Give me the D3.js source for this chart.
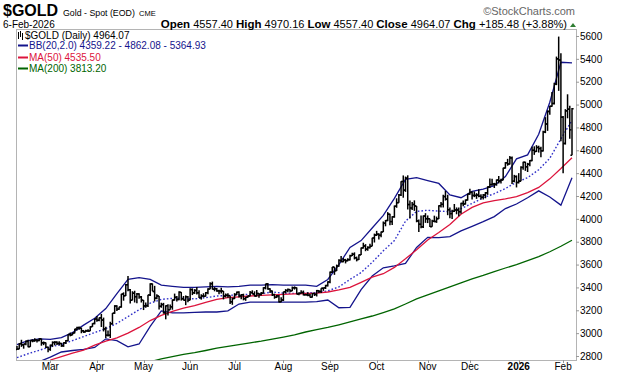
<!DOCTYPE html>
<html><head><meta charset="utf-8">
<script src="https://cdn.jsdelivr.net/npm/d3@7/dist/d3.min.js"></script>
<style>
html,body{margin:0;padding:0;background:#fff;}
svg{display:block;}
text{font-family:"Liberation Sans",Arial,sans-serif;}
</style></head>
<body>
<svg id="chart" width="620" height="376"></svg>
<script>
// ---- Data (trading-day index 0 = 7-Feb-2025 ... 250 = 6-Feb-2026) ----
const open = [2856,2861,2908,2898,2905,2928,2882,2935,2933,2939,2936,2951,2915,2916,2876,
2858,2893,2918,2920,2910,2910,2889,2916,2934,2988,2984,3001,3035,3048,3044,3022,3011,3020,3019,3057,3084,
3124,3113,3134,3114,3037,2982,2982,3083,3175,3237,3210,3229,3342,3327,3424,3380,3288,3349,3319,3343,3317,
3288,3239,3240,3334,3431,3365,3306,3325,3235,3250,3178,3240,3204,3230,3289,3314,3295,3357,3301,3288,3318,
3289,3381,3353,3374,3353,3311,3325,3322,3354,3386,3433,3385,3388,3370,3368,3368,3323,3332,3328,3274,
3303,3338,3357,3326,3336,3302,3313,3325,3355,3343,3325,3347,3338,3350,3397,3431,3387,3368,3337,3314,3326,3275,
3290,3363,3373,3381,3370,3397,3398,3342,3348,3356,3336,3336,3332,3315,3347,3339,3372,3365,3393,3397,3416,
3448,3533,3578,3546,3587,3636,3626,3641,3634,3643,3678,3690,3659,3644,3685,3746,3763,3735,3749,3760,3833,
3858,3866,3857,3886,3961,3985,4041,3976,4018,4110,4142,4209,4326,4251,4356,4125,4095,4126,4112,3982,3953,3930,4025,
4002,4001,3932,3980,3977,4001,4115,4127,4195,4172,4080,4046,4066,4078,4077,4063,4135,4130,4164,
4218,4232,4205,4205,4208,4198,4189,4208,4228,4280,4300,4305,4303,4339,4332,4340,4444,4490,4480,4533,4330,4370,
4318,4330,4450,4495,4455,4478,4510,4600,4590,4625,4615,4595,4760,4830,4940,4985,5010,5180,5400,5390,
4890,4660,4945,4960,4557];
const high = [2887,2911,2942,2907,2936,2942,2936,2947,2955,2946,2956,2952,2927,2918,2880,
2900,2928,2930,2930,2930,2915,2921,2940,2990,3005,3005,3038,3057,3058,3048,3028,3030,3033,3060,3087,3128,
3149,3137,3168,3136,3055,3024,3099,3176,3245,3245,3232,3344,3357,3430,3500,3386,3367,3371,3352,3350,3325,
3290,3269,3336,3437,3435,3414,3340,3325,3266,3265,3244,3252,3250,3295,3346,3325,3366,3359,3325,3330,3326,
3392,3392,3385,3403,3375,3340,3349,3360,3393,3446,3451,3403,3396,3380,3398,3369,3347,3350,3329,3309,
3350,3365,3366,3343,3345,3317,3330,3369,3375,3366,3377,3352,3360,3402,3433,3439,3393,3373,3345,3334,3334,3315,
3363,3385,3390,3385,3408,3409,3400,3358,3375,3373,3345,3358,3345,3350,3351,3378,3376,3393,3398,3423,3453,
3540,3578,3580,3600,3646,3674,3658,3650,3655,3686,3703,3707,3670,3688,3749,3791,3779,3760,3782,3834,3871,
3895,3875,3890,3977,3990,4059,4045,4022,4117,4180,4218,4330,4380,4370,4381,4160,4147,4162,4112,3994,4030,4030,4050,
4030,4002,3992,4028,4020,4120,4148,4210,4245,4211,4100,4080,4130,4100,4100,4140,4160,4170,4220,
4264,4240,4240,4225,4260,4215,4218,4235,4285,4353,4350,4315,4345,4375,4350,4448,4497,4525,4550,4545,4385,4380,
4400,4460,4500,4500,4490,4515,4630,4635,4645,4640,4630,4770,4890,4950,4990,5110,5190,5420,5595,5450,
4900,4960,5090,4990,4970];
const low = [2854,2859,2880,2864,2894,2876,2880,2920,2925,2918,2930,2890,2895,2870,2832,
2845,2880,2894,2896,2894,2880,2880,2906,2930,2972,2982,2998,3024,3030,2999,3002,3010,3011,3018,3055,3077,
3100,3105,3054,3015,2957,2970,2957,3073,3169,3193,3204,3223,3284,3325,3367,3260,3287,3268,3262,3300,3268,
3202,3222,3228,3326,3367,3277,3297,3207,3222,3171,3121,3154,3205,3205,3285,3277,3287,3285,3286,3245,3271,
3288,3333,3343,3339,3307,3293,3313,3320,3341,3384,3382,3366,3362,3340,3347,3295,3312,3310,3255,3248,
3298,3334,3311,3296,3287,3283,3310,3322,3341,3320,3320,3310,3330,3345,3383,3380,3351,3325,3301,3307,3268,3270,
3281,3349,3357,3357,3368,3381,3340,3331,3346,3330,3330,3323,3312,3311,3325,3321,3352,3352,3370,3386,3408,
3436,3527,3510,3544,3580,3620,3620,3610,3630,3636,3674,3645,3628,3640,3684,3740,3717,3722,3740,3760,3793,
3850,3820,3840,3885,3935,3980,3945,3947,4010,4097,4140,4200,4185,4236,4082,4004,4077,4070,3970,3886,3917,3920,3965,
3963,3928,3930,3970,3965,3998,4100,4100,4160,4032,4006,3998,4060,4040,4023,4045,4110,4125,4160,
4210,4170,4190,4175,4190,4170,4170,4180,4210,4270,4290,4270,4290,4310,4310,4338,4440,4465,4475,4305,4320,4275,
4310,4330,4430,4420,4410,4460,4505,4560,4585,4580,4540,4590,4750,4770,4910,4980,5000,5170,5120,4680,
4400,4650,4880,4700,4557];
const close = [2861,2908,2898,2905,2928,2882,2935,2933,2939,2936,2951,2915,2916,2876,2858,
2893,2918,2920,2910,2910,2889,2916,2934,2988,2984,3001,3035,3048,3044,3022,3011,3020,3019,3057,3084,3124,
3113,3134,3114,3037,2982,2982,3083,3175,3237,3210,3229,3342,3327,3424,3380,3288,3349,3319,3343,3317,3288,
3239,3240,3334,3431,3365,3306,3325,3235,3250,3178,3240,3204,3230,3289,3314,3295,3357,3301,3288,3318,3289,
3381,3353,3374,3353,3311,3325,3322,3354,3386,3433,3385,3388,3370,3368,3368,3323,3332,3328,3274,3303,
3338,3357,3326,3336,3302,3313,3325,3355,3343,3325,3347,3338,3350,3397,3431,3387,3368,3337,3314,3326,3275,3290,
3363,3373,3381,3370,3397,3398,3342,3348,3356,3336,3336,3332,3315,3347,3339,3372,3365,3393,3397,3416,3448,
3533,3578,3546,3587,3636,3626,3641,3634,3643,3678,3690,3659,3644,3685,3746,3763,3735,3749,3760,3833,3858,
3866,3857,3886,3961,3985,4041,3976,4018,4110,4142,4209,4326,4251,4356,4125,4095,4126,4112,3982,3953,3930,4025,4002,
4001,3932,3980,3977,4001,4115,4127,4195,4172,4080,4046,4066,4078,4077,4063,4135,4130,4164,4218,
4232,4205,4205,4208,4198,4189,4208,4228,4280,4300,4305,4303,4339,4332,4340,4444,4490,4480,4533,4330,4370,4318,
4330,4450,4495,4455,4478,4510,4600,4590,4625,4615,4595,4760,4830,4940,4985,5010,5180,5400,5390,4890,
4660,4945,4960,4779,4964];

// indicator lines read every 5th trading day (index 0,5,...,250)
const bbUpper = [2900,2935,2950,2945,2960,3005,3070,3130,3215,3345,3470,3485,3470,3420,3410,3400,3400,3405,3410,3405,
3410,3420,3420,3425,3420,3420,3420,3410,3470,3600,3750,3810,3920,4030,4180,4345,4360,4335,4310,4210,
4185,4240,4260,4290,4370,4525,4560,4740,5020,5370,5365];
const bbMid = [2785,2820,2850,2880,2900,2935,2970,3005,3040,3085,3145,3205,3262,3295,3305,3305,3300,3310,3325,3330,
3335,3340,3345,3360,3350,3348,3352,3355,3370,3405,3470,3530,3620,3720,3810,3980,4065,4075,4068,4063,
4090,4135,4185,4220,4265,4320,4360,4430,4530,4700,4862];
const bbLower = [2700,2725,2750,2790,2835,2848,2858,2875,2950,2935,2880,2905,3060,3195,3178,3178,3182,3185,3185,3195,
3255,3272,3272,3272,3272,3272,3272,3275,3290,3222,3225,3380,3500,3572,3588,3610,3750,3838,3835,3845,
3895,3935,3975,4020,4090,4130,4185,4245,4191,4120,4359];
const ma50 = [null,null,null,2765,2795,2825,2852,2895,2930,2958,3000,3050,3110,3155,3190,3218,3240,3270,3295,3310,
3318,3325,3330,3335,3340,3343,3347,3350,3360,3378,3400,3445,3490,3520,3575,3650,3730,3815,3880,3950,
4040,4100,4140,4160,4175,4195,4230,4275,4350,4440,4535];
const ma200 = [null,null,null,null,null,null,null,null,null,null,null,2720,2750,2775,2795,2815,2830,2848,2868,2885,
2900,2915,2930,2948,2966,2985,3010,3030,3050,3073,3098,3125,3150,3180,3212,3255,3300,3335,3370,3404,
3440,3475,3505,3538,3570,3600,3635,3670,3712,3760,3813];

const monthLabels = ["Mar","Apr","May","Jun","Jul","Aug","Sep","Oct","Nov","Dec","2026","Feb"];
const monthFirstIdx = [15,36,57,78,98,120,141,162,185,204,226,246];
const yTicks = [2800,3000,3200,3400,3600,3800,4000,4200,4400,4600,4800,5000,5200,5400,5600];

// ---- Layout ----
const svg = d3.select("#chart");
const F = {l:16, r:576, t:29, b:360};
const x = d3.scaleLinear().domain([0, close.length - 1]).range([17, 572]);
const y = d3.scaleLinear().domain([2800, 5600]).range([356, 36]);

svg.append("defs").append("clipPath").attr("id","clip")
  .append("rect").attr("x",F.l).attr("y",F.t).attr("width",F.r-F.l).attr("height",F.b-F.t);

// frame
svg.append("rect").attr("x",F.l+0.5).attr("y",F.t+0.5).attr("width",F.r-F.l).attr("height",F.b-F.t)
  .attr("fill","none").attr("stroke","#b4b4b4").attr("stroke-width",1);

const plot = svg.append("g").attr("clip-path","url(#clip)");
const sampleIdx = d3.range(0, close.length, 5);
const mkLine = arr => d3.line().defined((d,i)=>arr[i]!=null).x((d,i)=>x(sampleIdx[i])).y((d,i)=>y(arr[i]))(arr);

plot.append("path").attr("d",mkLine(ma200)).attr("fill","none").attr("stroke","#006400").attr("stroke-width",1.3);
plot.append("path").attr("d",mkLine(bbUpper)).attr("fill","none").attr("stroke","#14148c").attr("stroke-width",1.3);
plot.append("path").attr("d",mkLine(bbLower)).attr("fill","none").attr("stroke","#14148c").attr("stroke-width",1.3);
plot.append("path").attr("d",mkLine(bbMid)).attr("fill","none").attr("stroke","#3030c8").attr("stroke-width",1.4).attr("stroke-dasharray","1.6,2");
plot.append("path").attr("d",mkLine(ma50)).attr("fill","none").attr("stroke","#dc143c").attr("stroke-width",1.3);

// OHLC bars
const bars = plot.append("g").attr("stroke","#000").attr("stroke-width",1.5);
close.forEach((c,i)=>{
  const xi = x(i);
  bars.append("line").attr("x1",xi).attr("x2",xi).attr("y1",y(high[i])).attr("y2",y(low[i]));
  bars.append("line").attr("x1",xi-1.6).attr("x2",xi).attr("y1",y(open[i])).attr("y2",y(open[i]));
  bars.append("line").attr("x1",xi).attr("x2",xi+1.6).attr("y1",y(c)).attr("y2",y(c));
});

// right y axis
const yAxis = svg.append("g").attr("transform",`translate(${F.r},0)`)
  .call(d3.axisRight(y).tickValues(yTicks).tickSize(3).tickPadding(1).tickFormat(d3.format("d")));
yAxis.select(".domain").remove();
yAxis.selectAll("line").attr("stroke","#999");
yAxis.selectAll("text").attr("font-size",10).attr("fill","#000").attr("font-family","Liberation Sans, Arial, sans-serif");

// bottom month ticks
const xt = svg.append("g");
monthFirstIdx.forEach((mi,k)=>{
  const xx = Math.round(x(mi))+0.5;
  xt.append("line").attr("x1",xx).attr("x2",xx).attr("y1",F.b).attr("y2",F.b+3).attr("stroke","#999");
  xt.append("text").attr("x",x(mi)).attr("y",370).attr("text-anchor","middle")
    .attr("font-size",10).attr("font-weight",monthLabels[k]==="2026"?"bold":"normal").text(monthLabels[k]);
});

// header
svg.append("text").attr("x",3).attr("y",16).attr("font-size",16).attr("font-weight","bold").text("$GOLD");
svg.append("text").attr("x",63).attr("y",16).attr("font-size",8.8).text("Gold - Spot (EOD)");
svg.append("text").attr("x",139).attr("y",16).attr("font-size",7.5).text("CME");
svg.append("text").attr("x",575).attr("y",15).attr("text-anchor","end").attr("font-size",11).attr("fill","#666").text("\u00A9StockCharts.com");
svg.append("text").attr("x",3).attr("y",28).attr("font-size",10).text("6-Feb-2026");
const info = svg.append("text").attr("x",567).attr("y",28).attr("text-anchor","end").attr("font-size",11);
[["Open",true],[" 4557.40 ",false],["High",true],[" 4970.16 ",false],["Low",true],[" 4557.40 ",false],
 ["Close",true],[" 4964.07 ",false],["Chg",true],[" +185.48 (+3.88%)",false]].forEach(([t,b])=>{
  info.append("tspan").attr("font-weight",b?"bold":"normal").attr("font-size",b?11.5:11).text(t);
});
svg.append("path").attr("d","M570,27 L576,27 L573,23 Z").attr("fill","#2e7d32");

// legend
const lg = svg.append("g").attr("font-family","DejaVu Sans, Verdana, sans-serif").attr("font-size",10);
const ic = lg.append("g").attr("stroke","#000").attr("stroke-width",1);
[[18,32,39],[20,31,37],[22,33,40]].forEach(([xx,a,b])=>ic.append("line").attr("x1",xx+0.5).attr("x2",xx+0.5).attr("y1",a).attr("y2",b));
lg.append("text").attr("x",25).attr("y",39).attr("fill","#000").text("$GOLD (Daily) 4964.07");
const legendRows = [
  ["BB(20,2.0) 4359.22 - 4862.08 - 5364.93","#14148c",49],
  ["MA(50) 4535.50","#dc143c",61],
  ["MA(200) 3813.20","#006400",72]];
legendRows.forEach(([t,c,yy])=>{
  lg.append("line").attr("x1",18).attr("x2",28).attr("y1",yy-3.5).attr("y2",yy-3.5).attr("stroke",c).attr("stroke-width",2);
  lg.append("text").attr("x",29).attr("y",yy).attr("fill",c).text(t);
});
</script>
</body></html>
